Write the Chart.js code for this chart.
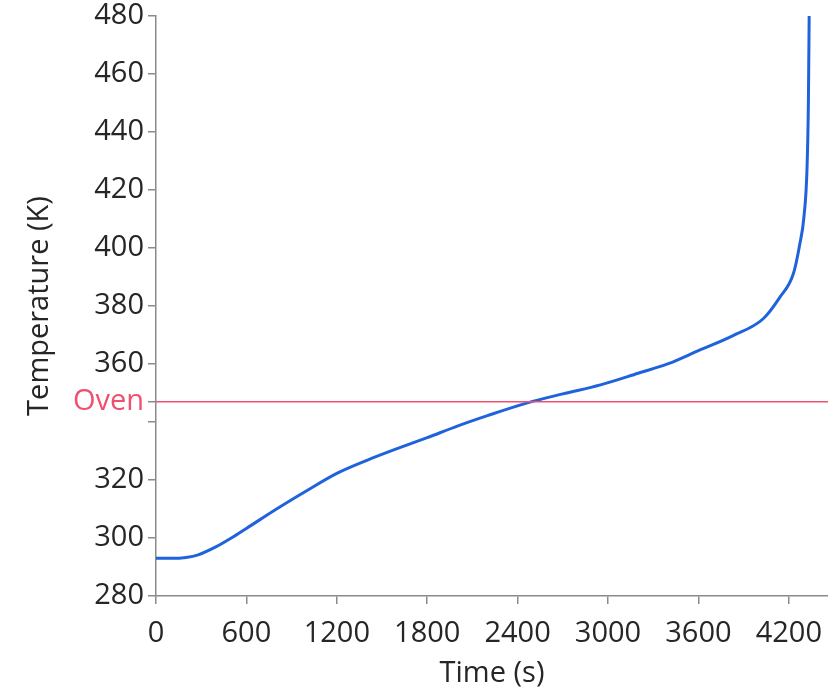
<!DOCTYPE html>
<html>
<head>
<meta charset="utf-8">
<script src="https://cdn.jsdelivr.net/npm/chart.js@4"></script>
<style>
  html, body { margin: 0; padding: 0; background: #fff; }
  #chart { display: block; }
</style>
</head>
<body>
<canvas id="chart" width="828" height="691"></canvas>
<script>
// Data
const times = [0, 100, 200, 280, 400, 500, 600, 800, 1000, 1200, 1400, 1600, 1800, 2000, 2200, 2465, 2700, 2950, 3200, 3400, 3600, 3830, 4030, 4140, 4230, 4273, 4300, 4321, 4330, 4335];
const temps = [293, 293, 293.3, 294.2, 297, 300, 303.3, 310, 316.3, 322.3, 326.8, 330.8, 334.6, 338.6, 342.2, 346.6, 349.7, 352.8, 356.8, 360.1, 364.6, 369.8, 375.6, 383, 391.1, 401.4, 410.6, 427.8, 450.7, 480];
const ovenTemp = 347;
const xTicks = [0, 600, 1200, 1800, 2400, 3000, 3600, 4200];
const yTicks = [280, 300, 320, 340, 360, 380, 400, 420, 440, 460, 480];
const xMin = 0, xMax = 4460;
const yMin = 280, yMax = 480;

const fontFamily = '"Open Sans", "Noto Sans", sans-serif';
const axisGray = '#8a8a8a';
const textColor = '#262626';
const ovenColor = '#f0506e';

const curve = times.map((t, i) => ({ x: t, y: temps[i] }));
const ovenLine = [{ x: xMin, y: ovenTemp }, { x: xMax, y: ovenTemp }];

new Chart(document.getElementById('chart'), {
    type: 'line',
    data: {
        datasets: [
            {
                label: 'Oven',
                data: ovenLine,
                borderColor: ovenColor,
                borderWidth: 1.5,
                pointRadius: 0,
                fill: false
            },
            {
                label: 'Temperature',
                data: curve,
                borderColor: '#1f63dc',
                borderWidth: 3,
                pointRadius: 0,
                cubicInterpolationMode: 'monotone',
                fill: false
            }
        ]
    },
    options: {
        responsive: false,
        animation: false,
        layout: { padding: 0 },
        plugins: {
            legend: { display: false },
            tooltip: { enabled: false }
        },
        scales: {
            x: {
                type: 'linear',
                min: xMin,
                max: xMax,
                afterBuildTicks: (scale) => {
                    scale.ticks = xTicks.map(v => ({ value: v }));
                },
                afterFit: (scale) => {
                    scale.height = 95;
                    scale.paddingLeft = 0;
                    scale.paddingRight = 0;
                },
                border: { display: true, color: axisGray, width: 1.5 },
                grid: { drawOnChartArea: false, drawTicks: true, tickLength: 8, color: axisGray, lineWidth: 1.5 },
                ticks: {
                    color: textColor,
                    padding: 12,
                    maxRotation: 0,
                    font: { family: fontFamily, size: 29 },
                    callback: (value) => String(value)
                },
                title: {
                    display: true,
                    text: 'Time (s)',
                    color: textColor,
                    padding: { top: 0, bottom: 0 },
                    font: { family: fontFamily, size: 29 }
                }
            },
            y: {
                type: 'linear',
                min: yMin,
                max: yMax,
                afterBuildTicks: (scale) => {
                    const ticks = yTicks.map(v => ({ value: v }));
                    ticks.push({ value: ovenTemp });
                    ticks.sort((a, b) => a.value - b.value);
                    scale.ticks = ticks;
                },
                afterFit: (scale) => {
                    scale.width = 156;
                    scale.paddingTop = 16;
                    scale.paddingBottom = 0;
                },
                border: { display: true, color: axisGray, width: 1.5 },
                grid: { drawOnChartArea: false, drawTicks: true, tickLength: 8, color: axisGray, lineWidth: 1.5 },
                ticks: {
                    padding: 4,
                    font: { family: fontFamily, size: 29 },
                    color: (ctx) => ctx.tick && ctx.tick.value === ovenTemp ? ovenColor : textColor,
                    callback: (value) => {
                        if (value === ovenTemp) return 'Oven';
                        if (value === 340) return '';
                        return String(value);
                    }
                },
                title: {
                    display: true,
                    text: 'Temperature (K)',
                    color: textColor,
                    padding: { top: 22, bottom: 4 },
                    font: { family: fontFamily, size: 29 }
                }
            }
        }
    }
});
</script>
</body>
</html>
